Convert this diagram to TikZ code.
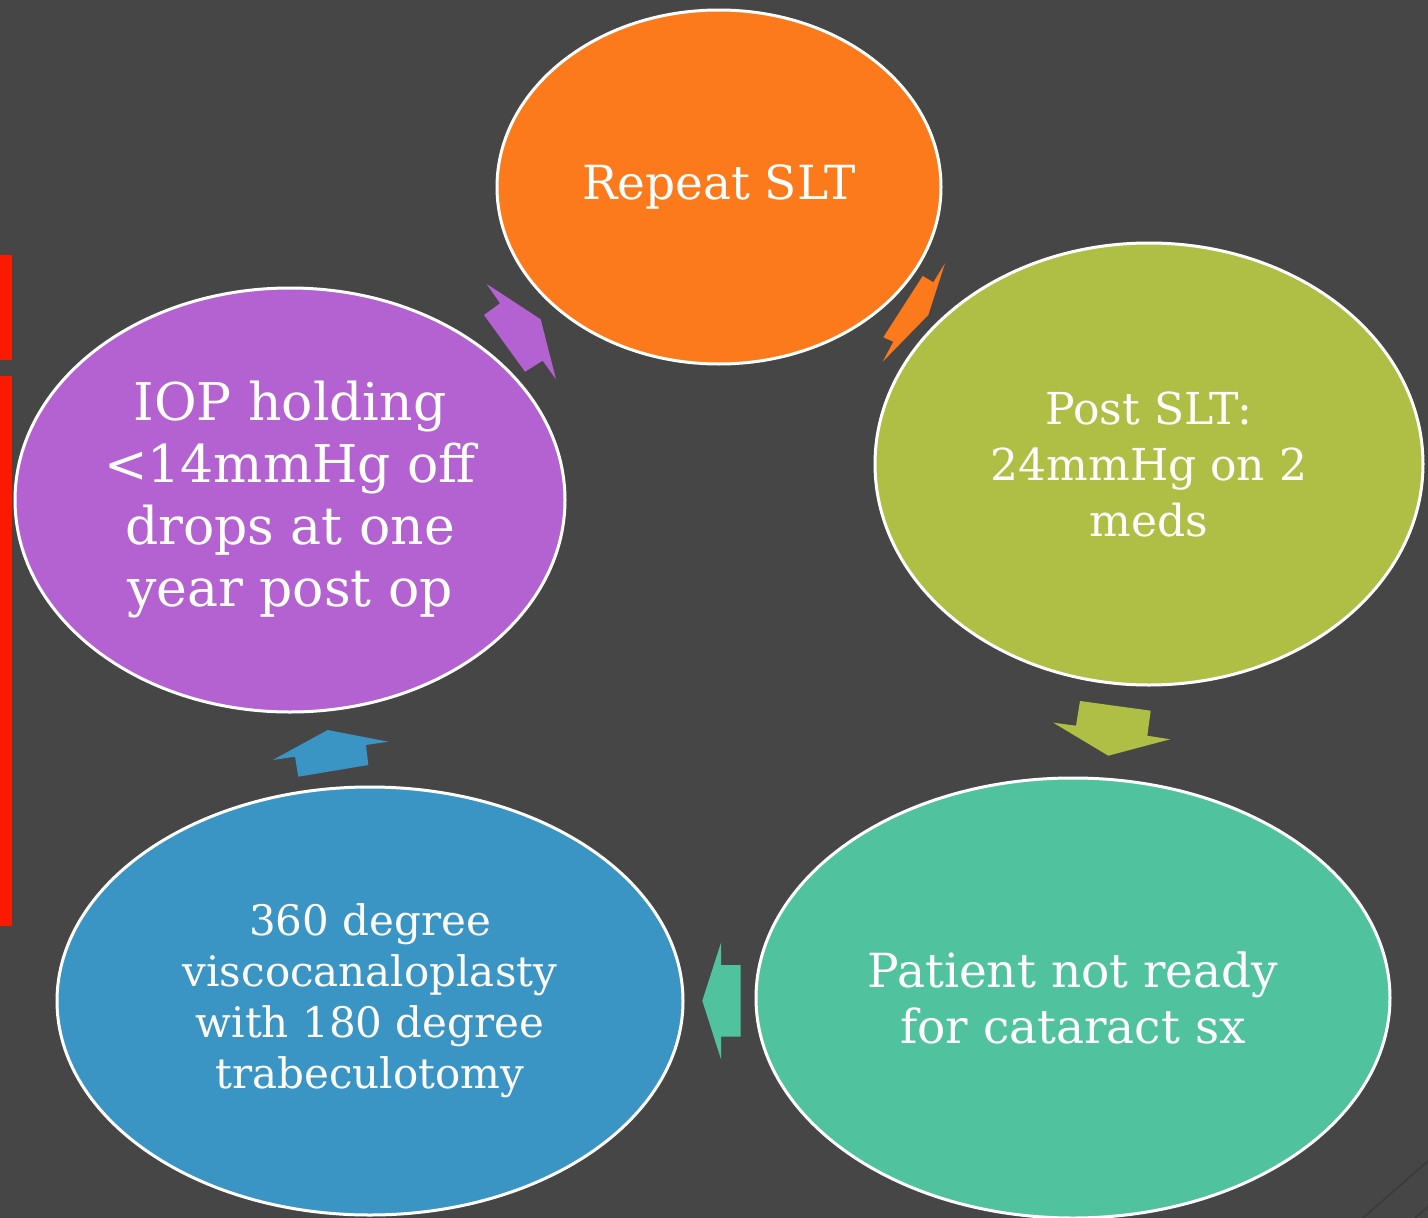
\documentclass[tikz,border=0pt]{standalone}
\usepackage{fontspec}
\setmainfont{DejaVu Serif}
\usetikzlibrary{shapes.geometric}
\definecolor{bg}{HTML}{464646}
\definecolor{cOrange}{HTML}{FC7A1B}
\definecolor{cOlive}{HTML}{AFBF45}
\definecolor{cTeal}{HTML}{50C39E}
\definecolor{cBlue}{HTML}{3B95C4}
\definecolor{cPurple}{HTML}{B462D2}
\definecolor{cRed}{HTML}{F91A00}
\definecolor{cLine}{HTML}{3A3A3A}
\tikzset{
  blob/.style={ellipse, draw=white, line width=3pt, inner sep=0pt, text=white, align=center},
}
\begin{document}
\begin{tikzpicture}[x=1pt,y=-1pt]
\useasboundingbox (0,0) rectangle (1428,1218);
\clip (0,0) rectangle (1428,1218);
\fill[bg] (0,0) rectangle (1428,1218);
% red bars
\fill[cRed] (0,255) rectangle (12,360);
\fill[cRed] (0,376) rectangle (12,926);
% faint corner lines
\draw[cLine, line width=1.5pt] (1363,1218) -- (1428,1161);
\draw[cLine, line width=1.5pt] (1415,1218) -- (1428,1207);
% ellipses
\node[blob, fill=cOrange, minimum width=444pt, minimum height=354pt, font=\fontsize{47}{56}\selectfont] (rep) at (719,187)
  {Repeat SLT};
\node[blob, fill=cOlive, minimum width=548pt, minimum height=442pt, font=\fontsize{44}{56}\selectfont] (post) at (1149,464)
  {Post SLT:\\24mmHg on 2\\meds};
\node[blob, fill=cTeal, minimum width=634pt, minimum height=440pt, font=\fontsize{47}{56}\selectfont] (pat) at (1073,998)
  {Patient not ready\\for cataract sx};
\node[blob, fill=cBlue, minimum width=626pt, minimum height=428pt, font=\fontsize{42}{51}\selectfont] (visc) at (370,1001)
  {360 degree\\viscocanaloplasty\\with 180 degree\\trabeculotomy};
\node[blob, fill=cPurple, minimum width=550pt, minimum height=424pt, font=\fontsize{52}{62}\selectfont] (iop) at (290,500)
  {IOP holding\\{<}14mmHg off\\drops at one\\year post op};
% arrows between ellipses
\fill[cOrange] (945,263.3) -- (933.3,282.3) -- (922.7,276) -- (883.3,337.3) -- (893.3,341.7) -- (882.7,361.7) -- (928.3,315) -- cycle;
\fill[cOlive] (1080,701) -- (1150.7,710.7) -- (1147.3,735.7) -- (1170,739.3) -- (1108.3,755.7) -- (1053.3,722.7) -- (1076,725.7) -- cycle;
\fill[cTeal] (721,942.7) -- (721,965) -- (740.7,965) -- (740.7,1036.7) -- (721,1036.7) -- (721,1059.3) -- (702.3,1000.7) -- cycle;
\fill[cBlue] (327.7,730) -- (388.3,741.7) -- (366,745) -- (368.3,765) -- (298.3,776.7) -- (295,756.7) -- (272.7,760) -- cycle;
\fill[cPurple] (486.7,284) -- (500,303.3) -- (484,315) -- (525,371.7) -- (542.7,360.7) -- (556,379.3) -- (540.7,319.3) -- cycle;
\end{tikzpicture}
\end{document}
